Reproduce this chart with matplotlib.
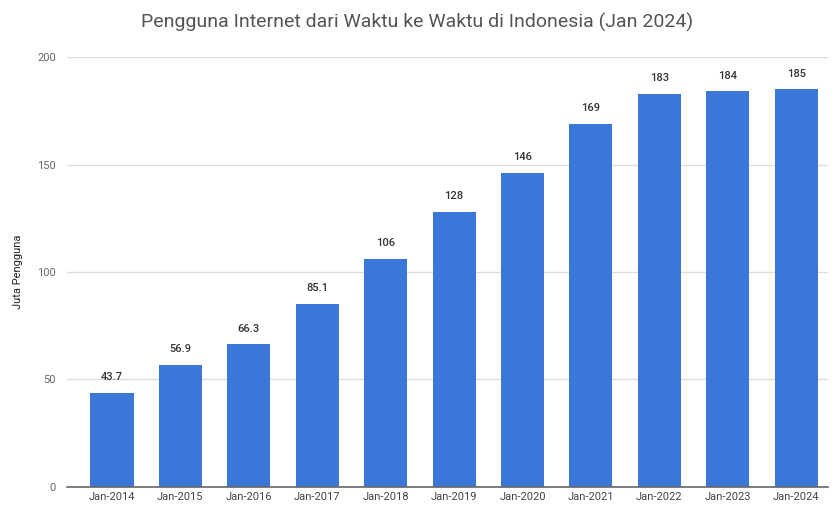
import matplotlib
matplotlib.use("Agg")
import matplotlib.pyplot as plt

# Data (million users)
years = ["Jan-2014", "Jan-2015", "Jan-2016", "Jan-2017", "Jan-2018", "Jan-2019",
         "Jan-2020", "Jan-2021", "Jan-2022", "Jan-2023", "Jan-2024"]
users = [43.7, 56.9, 66.3, 85.1, 106, 128, 146, 169, 183, 184, 185]
value_labels = ["43.7", "56.9", "66.3", "85.1", "106", "128", "146", "169", "183", "184", "185"]
y_ticks = [0, 50, 100, 150, 200]

plt.rcParams["font.family"] = ["Roboto", "DejaVu Sans"]

fig = plt.figure(figsize=(8.35, 5.05), dpi=100)
ax = fig.add_axes([0.080, 0.036, 0.912, 0.851])

x = list(range(len(years)))
bars = ax.bar(x, users, width=0.63, color="#3a77d9", zorder=3)

for rect, lab in zip(bars, value_labels):
    ax.text(rect.get_x() + rect.get_width() / 2, rect.get_height() + 5, lab,
            ha="center", va="bottom", fontsize=8, color="#333333", fontweight="medium")

ax.set_xlim(-0.66, 10.47)
ax.set_ylim(0, 200)
ax.set_yticks(y_ticks)
ax.set_xticks(x)
ax.set_xticklabels(years)
ax.tick_params(axis="both", length=0, labelsize=8, colors="#444444")
ax.tick_params(axis="y", pad=8, colors="#666666")
ax.tick_params(axis="x", pad=4)
ax.grid(axis="y", color="#dddddd", linewidth=1, zorder=0)
for s in ["top", "right", "left"]:
    ax.spines[s].set_visible(False)
ax.spines["bottom"].set_color("#666666")
ax.spines["bottom"].set_linewidth(1.2)
ax.spines["bottom"].set_zorder(4)

ax.set_ylabel("Juta Pengguna", fontsize=8, color="#222222", labelpad=10)
fig.text(0.5, 0.955, "Pengguna Internet dari Waktu ke Waktu di Indonesia (Jan 2024)",
         ha="center", va="center", fontsize=14, color="#555555")

fig.savefig("out.png", dpi=100)
